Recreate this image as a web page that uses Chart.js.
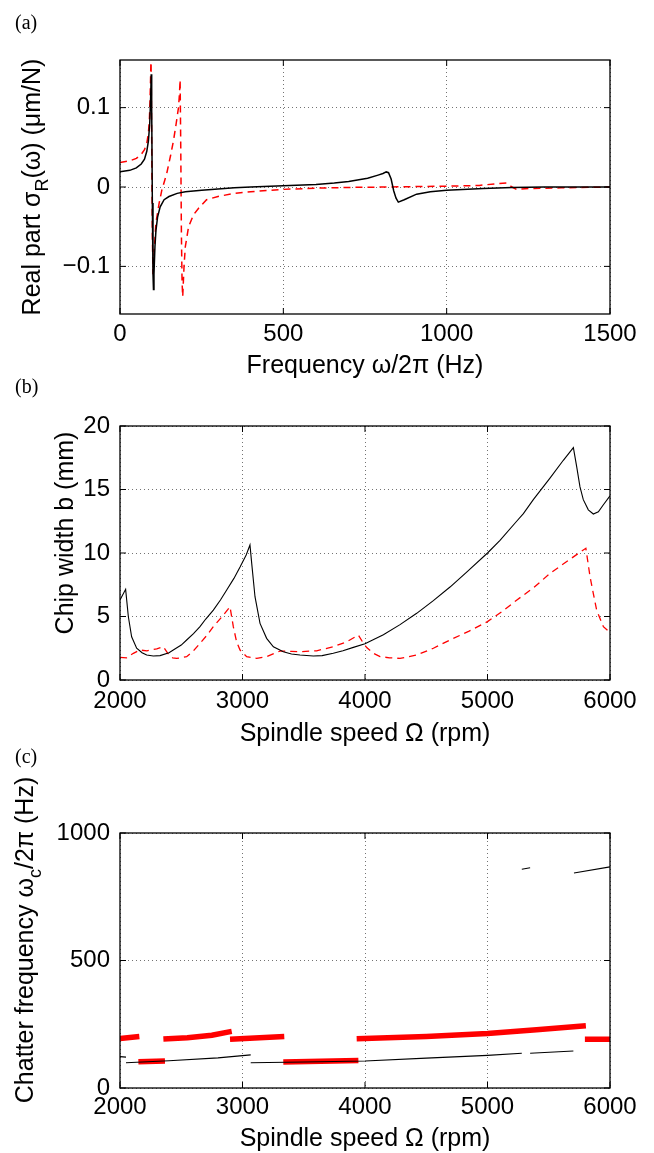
<!DOCTYPE html>
<html>
<head>
<meta charset="utf-8">
<script src="https://cdn.jsdelivr.net/npm/chart.js@4.4.1/dist/chart.umd.min.js"></script>
<style>
  body { margin: 0; background: #fff; }
  #wrap { position: relative; width: 654px; height: 1153px; overflow: hidden; }
  canvas { position: absolute; left: 0; }
  .tag { position: absolute; left: 15px; font: 20px "Liberation Serif", "Times New Roman", serif; line-height: 20px; color: #000; }
</style>
</head>
<body>
<div id="wrap">
  <canvas id="chartA" width="654" height="385" style="top:0px"></canvas>
  <canvas id="chartB" width="654" height="385" style="top:385px"></canvas>
  <canvas id="chartC" width="654" height="383" style="top:770px"></canvas>
  <div class="tag" style="top:12px">(a)</div>
  <div class="tag" style="top:376px">(b)</div>
  <div class="tag" style="top:746px">(c)</div>
</div>
<script>
// (a) real part of the FRF
const aFreqBlack = [0, 30, 50, 65, 75, 82, 87, 91, 94, 95.5, 97, 99, 101, 102.5, 104, 107, 110, 115, 123, 135, 150, 175, 200, 250, 300, 350, 400, 500, 600, 656, 700, 758, 790, 805, 815, 822, 830, 838, 845, 852, 870, 908, 950, 1000, 1112, 1200, 1300, 1400, 1500];
const aReBlack = [0.0193, 0.021, 0.024, 0.029, 0.035, 0.045, 0.058, 0.08, 0.115, 0.142, 0.1, -0.02, -0.11, -0.129, -0.11, -0.075, -0.055, -0.038, -0.025, -0.016, -0.012, -0.008, -0.006, -0.004, -0.0025, -0.001, 0, 0.0017, 0.003, 0.005, 0.007, 0.011, 0.015, 0.017, 0.019, 0.018, 0.01, -0.005, -0.014, -0.019, -0.016, -0.009, -0.006, -0.004, -0.002, -0.0005, 0, 0, 0];
const aFreqRed = [0, 30, 50, 65, 75, 82, 87, 90, 92, 93.5, 95, 97, 99, 101, 104, 110, 120, 128, 143, 155, 164, 172, 179, 182, 184, 186, 188, 190, 192, 196, 200, 210, 225, 240, 265, 300, 350, 400, 500, 600, 700, 820, 900, 1000, 1100, 1150, 1184, 1200, 1214, 1250, 1350, 1500];
const aReRed = [0.031, 0.033, 0.036, 0.041, 0.047, 0.055, 0.068, 0.085, 0.11, 0.135, 0.165, 0.06, -0.06, -0.11, -0.085, -0.045, -0.02, -0.004, 0.017, 0.04, 0.059, 0.08, 0.1, 0.117, 0.135, 0.05, -0.06, -0.12, -0.138, -0.1, -0.075, -0.05, -0.035, -0.027, -0.016, -0.012, -0.008, -0.006, -0.003, -0.0015, -0.0005, 0, 0.0005, 0.001, 0.002, 0.004, 0.005, 0, -0.003, -0.002, -0.001, 0];
const aXTicks = [0, 500, 1000, 1500];
const aYTicks = [-0.1, 0, 0.1];

// (b) stability lobes
const bSpeedBlack = [2000, 2046, 2068, 2095, 2136, 2180, 2218, 2272, 2327, 2400, 2435, 2500, 2544, 2600, 2653, 2700, 2762, 2820, 2871, 2930, 2980, 3030, 3061, 3075, 3102, 3143, 3197, 3252, 3333, 3400, 3469, 3578, 3650, 3741, 3820, 3905, 4000, 4150, 4286, 4422, 4558, 4694, 4830, 5000, 5102, 5238, 5293, 5374, 5510, 5619, 5701, 5728, 5755, 5782, 5823, 5864, 5905, 5946, 6000];
const bWidthBlack = [6.3, 7.14, 5.0, 3.4, 2.5, 2.15, 1.97, 1.89, 1.92, 2.15, 2.36, 2.75, 3.15, 3.65, 4.2, 4.8, 5.5, 6.3, 7.09, 8.0, 8.9, 9.85, 10.63, 9.2, 6.56, 4.46, 3.28, 2.62, 2.23, 2.05, 1.97, 1.89, 1.92, 2.1, 2.3, 2.57, 2.85, 3.57, 4.36, 5.25, 6.25, 7.32, 8.5, 10.0, 11.0, 12.5, 13.1, 14.2, 15.9, 17.3, 18.3, 16.8, 15.2, 14.2, 13.4, 13.07, 13.25, 13.8, 14.5];
const bSpeedRed = [2000, 2054, 2109, 2163, 2220, 2300, 2354, 2390, 2430, 2463, 2500, 2544, 2600, 2653, 2708, 2762, 2830, 2898, 2925, 2952, 2980, 3034, 3116, 3197, 3306, 3400, 3469, 3605, 3741, 3850, 3946, 3980, 4014, 4070, 4123, 4200, 4286, 4422, 4558, 4694, 4850, 5000, 5120, 5240, 5380, 5511, 5650, 5782, 5803, 5837, 5864, 5891, 5946, 6000];
const bWidthRed = [1.78, 1.75, 2.1, 2.36, 2.3, 2.45, 2.62, 2.1, 1.75, 1.7, 1.75, 1.84, 2.3, 2.89, 3.5, 4.2, 4.95, 5.77, 4.2, 3.0, 2.36, 1.84, 1.7, 1.84, 2.28, 2.25, 2.23, 2.3, 2.62, 3.0, 3.54, 3.0, 2.55, 2.1, 1.84, 1.75, 1.7, 1.97, 2.5, 3.15, 3.85, 4.6, 5.4, 6.3, 7.3, 8.4, 9.35, 10.24, 10.37, 8.14, 6.8, 5.5, 4.2, 3.73];
const bXTicks = [2000, 3000, 4000, 5000, 6000];
const bYTicks = [0, 5, 10, 15, 20];

// (c) chatter frequency, null = break between branches
const cSpeedBlack = [2000, 2049, 2049, 2049, 2400, 2800, 3067, 3067, 3067, 3500, 4000, 4500, 5000, 5280, 5300, 5348, 5701, 5720, 5280, 5348, 5500, 5706, 6000];
const cFreqBlack = [123, 121, null, 99, 107, 118, 130, null, 99, 102, 106, 117, 128, 136, null, 136, 145, null, 858, 864, null, 843, 867];
const cSpeedRed = [2000, 2158, 2200, 2354, 2550, 2750, 2912, 2905, 2898, 3341, 3400, 3932, 4500, 5000, 5400, 5803, 5800, 5795, 6000, 6000, 2150, 2367, 2400, 3333, 3946];
const cFreqRed = [194, 202, null, 192, 197, 207, 222, null, 191, 202, null, 193, 202, 214, 228, 244, null, 191, 191, null, 103, 106, null, 102, 108];
const cXTicks = [2000, 3000, 4000, 5000, 6000];
const cYTicks = [0, 500, 1000];

const FONT = '"Liberation Sans", Arial, Helvetica, sans-serif';

function pts(xs, ys) {
    return xs.map((x, i) => ({ x: x, y: ys[i] }));
}

function fmtTick(v) {
    return String(v).replace('-', '\u2212');
}

function drawRich(ctx, parts, cx, cy, size, rotate) {
    ctx.save();
    ctx.translate(cx, cy);
    if (rotate) ctx.rotate(-Math.PI / 2);
    ctx.fillStyle = '#000';
    ctx.textBaseline = 'alphabetic';
    ctx.textAlign = 'left';
    let w = 0;
    parts.forEach(p => {
        ctx.font = (p.sub ? Math.round(size * 0.7) : size) + 'px ' + FONT;
        w += ctx.measureText(p.t).width;
    });
    let x = -w / 2;
    parts.forEach(p => {
        ctx.font = (p.sub ? Math.round(size * 0.7) : size) + 'px ' + FONT;
        ctx.fillText(p.t, x, p.sub ? size * 0.3 : 0);
        x += ctx.measureText(p.t).width;
    });
    ctx.restore();
}

// box, inward ticks and axis titles, MATLAB style
const frame = {
    id: 'frame',
    afterDraw(chart, args, opts) {
        const { ctx, chartArea: a, scales: { x, y } } = chart;
        ctx.save();
        ctx.strokeStyle = '#000';
        ctx.lineWidth = 1.3;
        ctx.strokeRect(a.left, a.top, a.right - a.left, a.bottom - a.top);
        ctx.lineWidth = 1;
        ctx.beginPath();
        x.ticks.forEach(t => {
            const px = x.getPixelForValue(t.value);
            ctx.moveTo(px, a.bottom); ctx.lineTo(px, a.bottom - 6);
            ctx.moveTo(px, a.top); ctx.lineTo(px, a.top + 6);
        });
        y.ticks.forEach(t => {
            const py = y.getPixelForValue(t.value);
            ctx.moveTo(a.left, py); ctx.lineTo(a.left + 6, py);
            ctx.moveTo(a.right, py); ctx.lineTo(a.right - 6, py);
        });
        ctx.stroke();
        ctx.restore();
        drawRich(ctx, [{ t: opts.xTitle }], (a.left + a.right) / 2, opts.xTitleY, 25, false);
        drawRich(ctx, opts.yTitle, opts.yTitleX, opts.yTitleY, 25, true);
    }
};

function makeChart(id, cfg) {
    return new Chart(document.getElementById(id), {
        type: 'line',
        data: { datasets: cfg.datasets },
        options: {
            responsive: false,
            animation: false,
            events: [],
            layout: { padding: { top: cfg.padTop, right: 44, left: 0, bottom: 0 } },
            elements: { point: { radius: 0 }, line: { tension: 0, borderCapStyle: 'butt' } },
            plugins: {
                legend: { display: false },
                tooltip: { enabled: false },
                frame: cfg.frame
            },
            scales: {
                x: {
                    type: 'linear',
                    min: cfg.xTicks[0],
                    max: cfg.xTicks[cfg.xTicks.length - 1],
                    afterBuildTicks: s => { s.ticks = cfg.xTicks.map(v => ({ value: v })); },
                    afterFit: s => { s.height = cfg.xAxisH; s.paddingLeft = 0; s.paddingRight = 0; },
                    grid: { color: 'rgba(0,0,0,0.55)', lineWidth: 1, drawTicks: false },
                    border: { display: false, dash: [1, 3] },
                    ticks: { color: '#000', font: { family: FONT, size: 24 }, padding: cfg.xPad, maxRotation: 0, autoSkip: false, callback: fmtTick }
                },
                y: {
                    type: 'linear',
                    min: cfg.yMin,
                    max: cfg.yMax,
                    afterBuildTicks: s => { s.ticks = cfg.yTicks.map(v => ({ value: v })); },
                    afterFit: s => { s.width = 120; s.paddingTop = 0; s.paddingBottom = 0; },
                    grid: { color: 'rgba(0,0,0,0.55)', lineWidth: 1, drawTicks: false },
                    border: { display: false, dash: [1, 3] },
                    ticks: { color: '#000', font: { family: FONT, size: 24 }, padding: 10, autoSkip: false, callback: fmtTick }
                }
            }
        },
        plugins: [frame]
    });
}

makeChart('chartA', {
    padTop: 60, xAxisH: 71, xPad: 6,
    xTicks: aXTicks, yTicks: aYTicks, yMin: -0.16, yMax: 0.16,
    frame: {
        xTitle: 'Frequency \u03c9/2\u03c0 (Hz)', xTitleY: 373,
        yTitle: [{ t: 'Real part \u03c3' }, { t: 'R', sub: true }, { t: '(\u03c9) (\u03bcm/N)' }],
        yTitleX: 40, yTitleY: 187
    },
    datasets: [
        { data: pts(aFreqBlack, aReBlack), borderColor: '#000', borderWidth: 1.5 },
        { data: pts(aFreqRed, aReRed), borderColor: '#ff0000', borderWidth: 1.5, borderDash: [7, 5] }
    ]
});

makeChart('chartB', {
    padTop: 41, xAxisH: 90, xPad: 7,
    xTicks: bXTicks, yTicks: bYTicks, yMin: 0, yMax: 20,
    frame: {
        xTitle: 'Spindle speed \u03a9 (rpm)', xTitleY: 356,
        yTitle: [{ t: 'Chip width b (mm)' }],
        yTitleX: 73, yTitleY: 148
    },
    datasets: [
        { data: pts(bSpeedBlack, bWidthBlack), borderColor: '#000', borderWidth: 1.1 },
        { data: pts(bSpeedRed, bWidthRed), borderColor: '#ff0000', borderWidth: 1.3, borderDash: [7, 5] }
    ]
});

makeChart('chartC', {
    padTop: 63, xAxisH: 65, xPad: 5,
    xTicks: cXTicks, yTicks: cYTicks, yMin: 0, yMax: 1000,
    frame: {
        xTitle: 'Spindle speed \u03a9 (rpm)', xTitleY: 376,
        yTitle: [{ t: 'Chatter frequency \u03c9' }, { t: 'c', sub: true }, { t: '/2\u03c0 (Hz)' }],
        yTitleX: 33, yTitleY: 170
    },
    datasets: [
        { data: pts(cSpeedBlack, cFreqBlack), borderColor: '#000', borderWidth: 1.1, spanGaps: false },
        { data: pts(cSpeedRed, cFreqRed), borderColor: '#ff0000', borderWidth: 5.5, spanGaps: false }
    ]
});
</script>
</body>
</html>
